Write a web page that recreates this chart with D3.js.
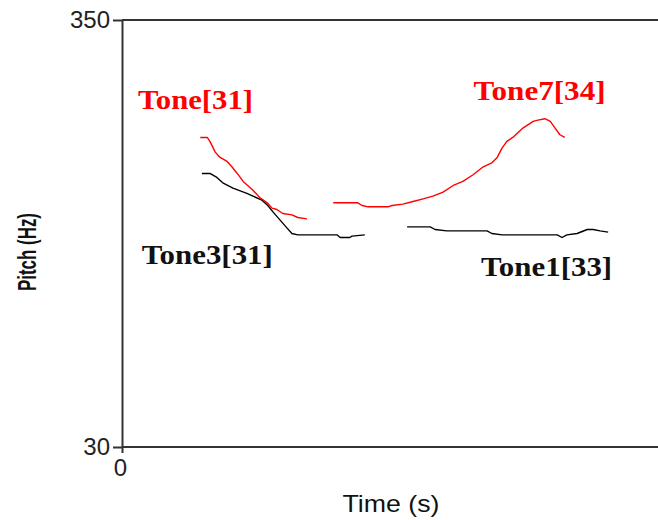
<!DOCTYPE html>
<html>
<head>
<meta charset="utf-8">
<script src="https://cdn.jsdelivr.net/npm/d3@7"></script>
<style>
  html, body { margin: 0; padding: 0; background: #fff; }
  svg { display: block; }
</style>
</head>
<body>
<svg id="chart" width="658" height="520"></svg>
<script>
// Pitch contours: [time (s), pitch (Hz)]
const tone31Red = [
  [0.146, 262], [0.159, 262], [0.164, 259], [0.174, 251], [0.183, 247],
  [0.196, 244], [0.205, 240], [0.215, 235], [0.226, 229], [0.243, 223],
  [0.257, 217], [0.271, 213], [0.280, 209], [0.289, 208], [0.300, 205],
  [0.317, 204], [0.328, 202], [0.345, 201]
];
const tone3Black = [
  [0.149, 235], [0.164, 235], [0.177, 232], [0.188, 228], [0.207, 224],
  [0.233, 220], [0.261, 215], [0.272, 211], [0.282, 206], [0.295, 200],
  [0.308, 194], [0.317, 190], [0.328, 189], [0.401, 189], [0.407, 187],
  [0.425, 187], [0.429, 188], [0.453, 189]
];
const tone7Red = [
  [0.394, 213], [0.440, 213], [0.448, 211], [0.459, 210], [0.496, 210],
  [0.504, 211], [0.524, 212], [0.543, 214], [0.562, 216], [0.580, 218],
  [0.599, 221], [0.618, 226], [0.636, 229], [0.655, 234], [0.674, 240],
  [0.690, 243], [0.700, 247], [0.709, 254], [0.718, 259], [0.729, 262],
  [0.748, 269], [0.767, 274], [0.776, 275], [0.789, 276], [0.799, 274],
  [0.808, 269], [0.817, 264], [0.826, 262]
];
const tone1Black = [
  [0.532, 195], [0.575, 195], [0.584, 193], [0.606, 192], [0.681, 192],
  [0.690, 190], [0.709, 189], [0.812, 189], [0.821, 187], [0.830, 189],
  [0.849, 190], [0.868, 193], [0.879, 193], [0.892, 192], [0.907, 191]
];

// Tone labels: text, colour, anchor point [time, pitch]
const labelTexts = ["Tone[31]", "Tone7[34]", "Tone3[31]", "Tone1[33]"];
const labelColors = ["#ff0000", "#ff0000", "#111111", "#111111"];
const labelAnchors = [[0.030, 283], [0.656, 290], [0.037, 167], [0.670, 158]];
const labelWidths = [115, 132, 131, 131];

const yTicks = [30, 350];
const xTicks = [0];

const svg = d3.select("#chart");

const x = d3.scaleLinear().domain([0, 1]).range([122, 658]);
const y = d3.scaleLinear().domain([30, 350]).range([447, 20]);

const axisColor = "#333";

// Frame: top and bottom rules across the plot
svg.append("line")
  .attr("x1", x(0)).attr("x2", 660)
  .attr("y1", y(350)).attr("y2", y(350))
  .attr("stroke", axisColor).attr("stroke-width", 2);
svg.append("line")
  .attr("x1", x(0)).attr("x2", 660)
  .attr("y1", y(30)).attr("y2", y(30))
  .attr("stroke", axisColor).attr("stroke-width", 2);

// Y axis
const yAxis = svg.append("g")
  .attr("transform", `translate(${x(0)},0)`)
  .call(d3.axisLeft(y).tickValues(yTicks).tickSize(9).tickSizeOuter(0).tickPadding(3));
yAxis.select(".domain").attr("stroke", axisColor).attr("stroke-width", 2);
yAxis.selectAll(".tick line").attr("stroke", axisColor).attr("stroke-width", 2);
yAxis.selectAll(".tick text")
  .attr("fill", "#222")
  .style("font-family", "'Liberation Sans', Arial, sans-serif")
  .style("font-size", "24px");

// X axis (only the origin tick)
const xAxis = svg.append("g")
  .attr("transform", `translate(0,${y(30)})`)
  .call(d3.axisBottom(x).tickValues(xTicks).tickFormat(d3.format("d"))
    .tickSize(6).tickSizeOuter(0).tickPadding(6));
xAxis.select(".domain").remove();
xAxis.selectAll(".tick line").attr("stroke", axisColor).attr("stroke-width", 2);
xAxis.selectAll(".tick text")
  .attr("fill", "#222")
  .attr("dx", "-2")
  .style("font-family", "'Liberation Sans', Arial, sans-serif")
  .style("font-size", "24px");

// Axis titles
svg.append("text")
  .attr("x", 391).attr("y", 512)
  .attr("text-anchor", "middle")
  .attr("textLength", 97).attr("lengthAdjust", "spacingAndGlyphs")
  .attr("fill", "#111")
  .style("font-family", "'Liberation Sans', Arial, sans-serif")
  .style("font-size", "24px")
  .text("Time (s)");

svg.append("text")
  .attr("transform", "translate(36,252) rotate(-90)")
  .attr("text-anchor", "middle")
  .attr("textLength", 78).attr("lengthAdjust", "spacingAndGlyphs")
  .attr("fill", "#111")
  .style("font-family", "'Liberation Sans', Arial, sans-serif")
  .style("font-weight", "bold")
  .style("font-size", "26px")
  .text("Pitch (Hz)");

// Contours
const line = d3.line().x(d => x(d[0])).y(d => y(d[1]));
const series = [
  { data: tone3Black, color: "#000" },
  { data: tone1Black, color: "#000" },
  { data: tone31Red, color: "#ff0000" },
  { data: tone7Red, color: "#ff0000" }
];
svg.selectAll("path.contour")
  .data(series)
  .join("path")
  .attr("class", "contour")
  .attr("d", d => line(d.data))
  .attr("fill", "none")
  .attr("stroke", d => d.color)
  .attr("stroke-width", 1.4)
  .attr("stroke-linejoin", "round");

// Tone labels
svg.selectAll("text.tone")
  .data(labelTexts)
  .join("text")
  .attr("class", "tone")
  .attr("x", (d, i) => x(labelAnchors[i][0]))
  .attr("y", (d, i) => y(labelAnchors[i][1]))
  .attr("textLength", (d, i) => labelWidths[i])
  .attr("lengthAdjust", "spacingAndGlyphs")
  .attr("fill", (d, i) => labelColors[i])
  .style("font-family", "'Liberation Serif', 'Times New Roman', serif")
  .style("font-weight", "bold")
  .style("font-size", "27px")
  .text(d => d);
</script>
</body>
</html>
